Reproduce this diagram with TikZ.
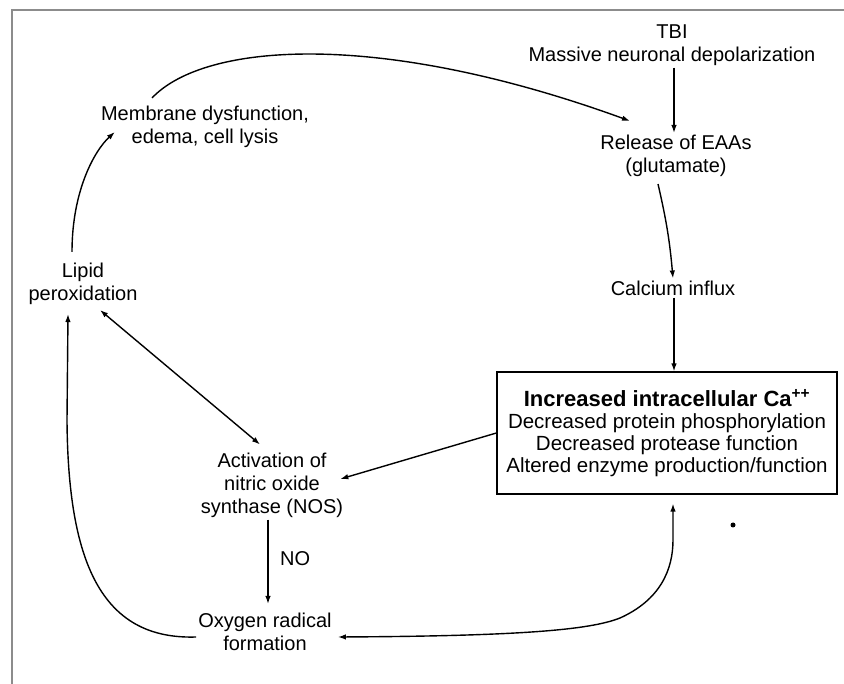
\documentclass[tikz,border=0pt]{standalone}
\usepackage{fontspec}
\setmainfont{Liberation Sans}
\usetikzlibrary{arrows.meta}
\begin{document}
\begin{tikzpicture}[x=1pt,y=-1pt,
  txt/.style={align=center, font=\fontsize{20}{23}\selectfont, inner sep=2pt},
  flow/.style={line width=1.4pt, -{Latex[length=8pt,width=5.5pt]}},
  both/.style={line width=1.4pt, {Latex[length=8pt,width=5.5pt]}-{Latex[length=8pt,width=5.5pt]}},
  frame/.style={draw=black!45, line width=2pt},
  cabox/.style={draw, line width=1.2pt, minimum width=340pt, minimum height=122pt,
    align=center, font=\fontsize{20.5}{22}\selectfont, inner sep=0pt}]
\useasboundingbox (0,0) rectangle (844,684);
\fill[white] (0,0) rectangle (844,684);

% outer frame (top and left edges)
\draw[frame] (844,10) -- (12,10) -- (12,684);

% nodes
\node[txt] (tbi) at (672,45) {TBI\\Massive neuronal depolarization};
\node[txt] (rel) at (676,156) {Release of EAAs\\(glutamate)};
\node[txt] (cal) at (673,288) {Calcium influx};
\node[cabox] (ca) at (667,433) {{\fontsize{22}{22}\selectfont\bfseries Increased intracellular Ca\textsuperscript{++}}\\
  Decreased protein phosphorylation\\
  Decreased protease function\\
  Altered enzyme production/function};
\node[txt] (mem) at (205,127) {Membrane dysfunction,\\edema, cell lysis};
\node[txt] (lip) at (83,284) {Lipid\\peroxidation};
\node[txt] (nos) at (272,485) {Activation of\\nitric oxide\\synthase (NOS)};
\node[txt] (oxy) at (265,632) {Oxygen radical\\formation};
\node[txt, anchor=west] (no) at (278,559) {NO};

% connectors
\draw[flow] ([xshift=2pt]tbi.south) -- ([xshift=2pt]tbi.south |- rel.north);
\draw[flow] ([xshift=-18pt,yshift=-5pt]rel.south) to[bend left=4] (cal.north);
\draw[flow] ([xshift=1pt]cal.south) -- ([xshift=1pt]cal.south |- ca.north);
\draw[flow] ([xshift=-53pt,yshift=6pt]mem.north)
  .. controls (205,42) and (380,30) .. ([xshift=-46pt,yshift=12pt]rel.north);
\draw[flow] ([xshift=-11pt,yshift=9pt]lip.north)
  .. controls (72,190) and (95,150) .. ([xshift=16pt,yshift=-5pt]mem.west);
\draw[both] ([xshift=17pt,yshift=-3pt]lip.south) -- ([xshift=-12pt,yshift=6pt]nos.north);
\draw[flow] (ca.west) -- ([xshift=-5pt,yshift=6pt]nos.east);
\draw[flow, shorten >=7pt] ([xshift=-4pt]nos.south) -- ([xshift=-4pt]nos.south |- oxy.north);
\draw[flow] ([yshift=-5pt]oxy.west)
  .. controls (100,640) and (68,560) .. (67,420) -- ([xshift=-15pt,yshift=-7pt]lip.south);
\draw[both] ([xshift=4pt,yshift=-5pt]oxy.east)
  .. controls (520,636) and (590,630) .. (620,618)
  .. controls (660,600) and (673,570) .. (673,540) -- ([xshift=6pt,yshift=-9pt]ca.south);

% stray ink dot
\fill (733,525) circle (2.5pt);
\end{tikzpicture}
\end{document}
